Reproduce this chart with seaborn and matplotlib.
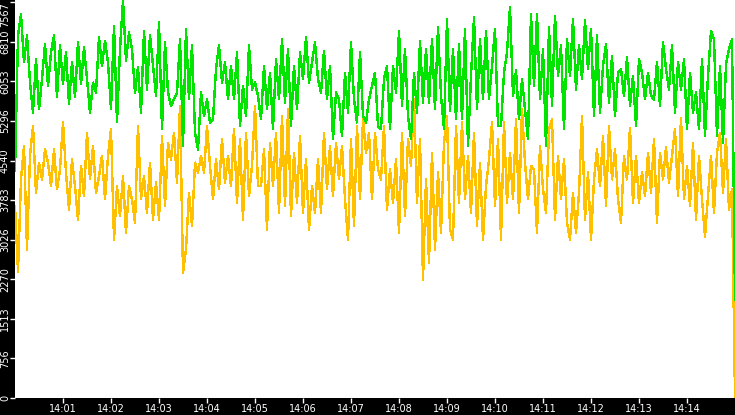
import pandas as pd
import seaborn as sns
import matplotlib.pyplot as plt
import matplotlib.dates as mdates

# samples every 3.75 s from 14:00:00 to 14:15:00
start_time = "2024-01-01 14:00:00"
sample_step = "3750ms"

green_vals = [
    4340, 6930, 7340, 6420, 6930, 6030, 5460, 6480, 5520, 6100, 6770, 5970, 6610, 6930,
    5750, 6740, 6000, 6610, 5620, 6420, 5750, 6800, 6000, 6700, 6100, 5460, 6030, 5840,
    6900, 6350, 6830, 6420, 5520, 7120, 5270, 6670, 7600, 6450, 6990, 6670, 5840, 6320,
    5460, 7020, 5900, 6930, 6350, 5780, 7180, 5140, 6800, 5840, 5590, 5710, 5840, 6860,
    4820, 7060, 5710, 6740, 5070, 4750, 5840, 5390, 5710, 5270, 5330, 6290, 6740, 6030,
    6420, 5710, 6350, 5710, 6610, 5200, 5970, 5390, 6740, 5900, 6030, 5780,
    5330, 6350, 5520, 6220, 5140, 6480, 5710, 6860, 5650, 6670, 5200, 6350, 5520, 6610,
    6100, 6900, 6030, 6420, 6800, 6100, 5840, 6640, 5710, 6350, 4950, 5840, 5710, 5010,
    6220, 5460, 6800, 5710, 5270, 6610, 5390, 5270, 5710, 5970, 6220, 5200,
    5140, 6100, 6350, 5140, 6350, 5840, 7020, 5590, 6670, 5390, 4950, 6220, 5460, 6830,
    5650, 6670, 5650, 6860, 5520, 7090, 5780, 5140, 7250, 5490, 6670, 5330, 6770, 5330,
    7060, 4820, 6160, 7280, 5520, 6860, 5710, 7020, 5710, 6350, 7060, 5200,
    5200, 6220, 6610, 7470, 5780, 6260, 5330, 6100, 5520, 4950, 7340, 5970, 7340, 5710,
    6670, 4820, 7090, 5590, 7310, 6160, 6740, 5140, 6860, 6160, 7250, 5900, 6740, 6100,
    7220, 6290, 7060, 5390, 6930, 5460, 6350, 6770, 5650, 6540, 5390, 6220,
    6290, 5780, 6510, 5590, 6160, 5200, 6480, 6220, 5710, 6220, 5780, 5710, 6420, 5590,
    6800, 6290, 5900, 6740, 5460, 6420, 5900, 6480, 5140, 6220, 5460, 5840, 5140, 6480,
    5010, 6160, 7020, 6860, 5010, 6350, 4880, 6380, 6670, 6860, 1880,
]

orange_vals = [
    3670, 2420, 4180, 4820, 2840, 4630, 5200, 3920, 4500, 4180, 4750, 4500, 4050, 4750,
    3990, 4370, 5270, 4310, 3600, 4560, 4050, 3410, 4440, 3860, 5070, 4180, 4820, 3920,
    4240, 4630, 3800, 4630, 5140, 3030, 4050, 3480, 4240, 3160, 4050, 3800, 3350, 5200,
    3800, 4240, 3540, 4500, 3410, 4120, 3410, 5010, 3670, 4880, 4560, 5070, 4120, 5590,
    2390, 2840, 3920, 3290, 4500, 4310, 4630, 4310, 5200, 4440, 3800, 4560, 3990, 4950,
    4120, 4630, 4050, 5140, 3730, 4950, 3410, 5070, 3860, 4440, 5590, 4050,
    4050, 4750, 3220, 4880, 4050, 5070, 3540, 5390, 3670, 5520, 3480, 4690, 3730, 5010,
    3540, 4560, 3220, 4050, 3540, 4560, 3540, 5070, 3990, 4820, 3860, 4880, 4180, 4820,
    3800, 3030, 4950, 3290, 5200, 3800, 5330, 4690, 5070, 3800, 5070, 4370,
    4180, 5200, 3600, 4370, 3730, 4560, 3160, 5070, 3480, 4950, 4440, 5710, 3730, 4950,
    2260, 4180, 2580, 4690, 2840, 4310, 3160, 4880, 5390, 3220, 3030, 5200, 3730, 5270,
    3800, 4630, 3540, 5070, 3290, 4500, 3030, 4050, 4560, 5270, 3670, 4950,
    3030, 5270, 3730, 4690, 3800, 5330, 3540, 5520, 4500, 3800, 4440, 4370, 3160, 4820,
    3990, 3540, 5140, 5330, 3410, 4630, 3800, 4560, 3350, 3030, 3920, 3160, 3920, 5390,
    3410, 4310, 3030, 4180, 4750, 4050, 5010, 3670, 5200, 4180, 4750, 3800,
    3350, 4630, 4180, 5170, 3730, 4630, 3730, 4310, 3860, 4690, 3920, 4950, 3350, 4690,
    4180, 4790, 4120, 4630, 5140, 3860, 5360, 3800, 4440, 3670, 4880, 3410, 4630, 3800,
    3090, 3860, 4630, 3540, 4690, 5070, 3920, 4950, 3600, 3990, 0,
]

y_ticks = [0, 756, 1513, 2270, 3026, 3783, 4540, 5296, 6053, 6810, 7567]
series_names = ["orange", "green"]
colors = {"orange": "#ffc000", "green": "#00e400"}

times = pd.date_range(start_time, periods=len(green_vals), freq=sample_step)
df = pd.DataFrame({
    "time": list(times) * 2,
    "value": orange_vals + green_vals,
    "series": ["orange"] * len(orange_vals) + ["green"] * len(green_vals),
})

fig = plt.figure(figsize=(7.35, 4.15), dpi=100, facecolor="black")
ax = fig.add_axes([15 / 735, 17 / 415, 720 / 735, 398 / 415])
ax.set_facecolor("white")

sns.lineplot(data=df, x="time", y="value", hue="series", hue_order=series_names,
             palette=colors, linewidth=1.0, legend=False, ax=ax, antialiased=False)

ax.set_xlim(times[0], times[-1])
ax.set_ylim(0, 7610)
ax.set_xlabel("")
ax.set_ylabel("")
for s in ax.spines.values():
    s.set_visible(False)

ax.xaxis.set_major_locator(mdates.MinuteLocator(byminute=range(1, 15)))
ax.xaxis.set_major_formatter(mdates.DateFormatter("%H:%M"))
ax.set_yticks(y_ticks)
ax.set_yticklabels([str(v) for v in y_ticks])

ax.tick_params(axis="x", colors="white", labelsize=7, length=3.6, width=1, pad=0.5)
ax.tick_params(axis="y", colors="white", labelsize=7, length=3.6, width=1, pad=0,
               labelrotation=90)
for lab in ax.get_yticklabels():
    lab.set_va("center")
    lab.set_family(["Liberation Sans Narrow", "DejaVu Sans Condensed", "DejaVu Sans"])
ax.get_yticklabels()[-1].set_va("top")

fig.savefig("out.png", dpi=100, facecolor="black")
